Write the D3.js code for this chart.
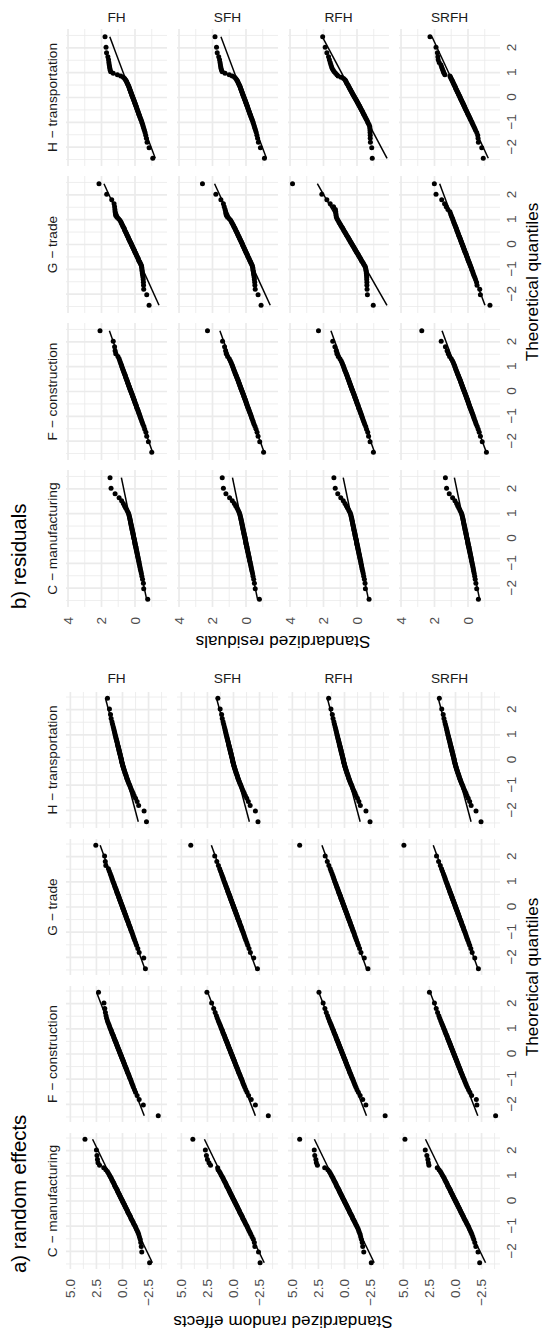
<!DOCTYPE html>
<html>
<head>
<meta charset="utf-8">
<script src="https://cdn.jsdelivr.net/npm/d3@7"></script>
<style>
  body { margin: 0; background: #fff; }
  text { font-family: "Liberation Sans", Arial, Helvetica, sans-serif; }
</style>
</head>
<body>
<svg id="chart" width="543" height="1331"></svg>
<script>
// facet labels
const sectors = ['C − manufacturing', 'F − construction', 'G − trade', 'H − transportation']
const models = ['FH', 'SFH', 'RFH', 'SRFH']

// ticks
const qTicks = [-2, -1, 0, 1, 2]
const qMinor = [-2.5, -1.5, -0.5, 0.5, 1.5, 2.5]
const reTicks = [-2.5, 0, 2.5, 5]
const reMinor = [-3.75, -1.25, 1.25, 3.75]
const resTicks = [0, 2, 4]
const resMinor = [-1, 1, 3]

// a) standardized random effects, sorted sample per facet
const reC_FH = [-2.6, -1.85, -1.8, -1.75, -1.7, -1.62, -1.55, -1.48, -1.4, -1.32, -1.25, -1.18, -1.1, -1.04, -0.98, -0.92, -0.86, -0.8, -0.76, -0.71, -0.66, -0.6, -0.55, -0.5, -0.47, -0.42, -0.37, -0.32, -0.29, -0.24, -0.19, -0.16, -0.11, -0.06, -0.02, 0.02, 0.06, 0.11, 0.16, 0.19, 0.24, 0.29, 0.32, 0.37, 0.42, 0.47, 0.5, 0.55, 0.6, 0.66, 0.71, 0.76, 0.8, 0.86, 0.92, 0.98, 1.04, 1.1, 1.18, 1.25, 1.35, 1.45, 1.6, 1.8, 2.2, 2.35, 2.4, 2.45, 2.5, 3.6]
const reC_SFH = [-2.55, -2.4, -2.05, -2.0, -1.9, -1.78, -1.66, -1.57, -1.48, -1.4, -1.33, -1.26, -1.18, -1.12, -1.06, -1.0, -0.94, -0.88, -0.84, -0.79, -0.74, -0.68, -0.63, -0.58, -0.55, -0.5, -0.45, -0.4, -0.37, -0.32, -0.27, -0.24, -0.19, -0.14, -0.1, -0.06, -0.02, 0.03, 0.08, 0.11, 0.16, 0.21, 0.24, 0.29, 0.34, 0.39, 0.42, 0.47, 0.52, 0.58, 0.63, 0.68, 0.72, 0.78, 0.84, 0.9, 0.96, 1.02, 1.1, 1.18, 1.26, 1.36, 1.48, 1.52, 2.2, 2.35, 2.5, 2.6, 2.7, 3.9]
const reC_RFH = [-2.57, -1.85, -1.75, -1.7, -1.62, -1.55, -1.5, -1.42, -1.36, -1.3, -1.22, -1.15, -1.08, -1.02, -0.96, -0.9, -0.84, -0.78, -0.74, -0.69, -0.64, -0.58, -0.53, -0.48, -0.45, -0.4, -0.35, -0.3, -0.27, -0.22, -0.17, -0.14, -0.09, -0.04, 0.0, 0.04, 0.08, 0.13, 0.18, 0.21, 0.26, 0.31, 0.34, 0.39, 0.44, 0.49, 0.52, 0.57, 0.62, 0.68, 0.73, 0.78, 0.82, 0.88, 0.94, 1.0, 1.06, 1.12, 1.2, 1.27, 1.36, 1.46, 1.6, 1.9, 2.6, 2.7, 2.75, 2.85, 2.9, 4.3]
const reC_SRFH = [-2.32, -2.16, -1.95, -1.85, -1.75, -1.66, -1.57, -1.49, -1.41, -1.33, -1.26, -1.19, -1.12, -1.05, -0.99, -0.93, -0.87, -0.81, -0.76, -0.71, -0.66, -0.61, -0.56, -0.51, -0.47, -0.42, -0.38, -0.33, -0.29, -0.24, -0.2, -0.16, -0.11, -0.07, -0.02, 0.02, 0.06, 0.11, 0.16, 0.19, 0.24, 0.29, 0.32, 0.37, 0.42, 0.47, 0.5, 0.55, 0.6, 0.66, 0.71, 0.76, 0.8, 0.86, 0.92, 0.98, 1.04, 1.1, 1.18, 1.26, 1.35, 1.45, 1.58, 1.75, 2.55, 2.6, 2.65, 2.75, 2.9, 4.85]

const reF_FH = [-3.43, -2.0, -1.6, -1.4, -1.25, -1.15, -1.05, -0.98, -0.91, -0.85, -0.79, -0.73, -0.67, -0.63, -0.58, -0.53, -0.48, -0.44, -0.4, -0.36, -0.32, -0.28, -0.24, -0.2, -0.17, -0.13, -0.09, -0.06, -0.03, 0.01, 0.05, 0.08, 0.11, 0.15, 0.18, 0.22, 0.25, 0.29, 0.32, 0.35, 0.39, 0.43, 0.46, 0.49, 0.53, 0.57, 0.6, 0.64, 0.68, 0.72, 0.76, 0.8, 0.84, 0.88, 0.93, 0.98, 1.03, 1.07, 1.13, 1.19, 1.25, 1.31, 1.38, 1.45, 1.52, 1.58, 1.64, 1.7, 1.78, 2.3]
const reF_SFH = [-3.34, -2.1, -1.7, -1.45, -1.3, -1.18, -1.08, -1.0, -0.93, -0.87, -0.81, -0.75, -0.69, -0.64, -0.59, -0.54, -0.49, -0.45, -0.41, -0.37, -0.33, -0.29, -0.25, -0.21, -0.18, -0.14, -0.1, -0.07, -0.04, 0.0, 0.04, 0.07, 0.1, 0.14, 0.17, 0.21, 0.24, 0.28, 0.31, 0.34, 0.38, 0.42, 0.45, 0.48, 0.52, 0.56, 0.59, 0.63, 0.67, 0.71, 0.75, 0.79, 0.83, 0.87, 0.92, 0.97, 1.02, 1.06, 1.12, 1.18, 1.24, 1.31, 1.38, 1.46, 1.55, 1.64, 1.76, 1.9, 2.1, 2.55]
const reF_RFH = [-3.9, -2.05, -1.75, -1.5, -1.33, -1.2, -1.1, -1.02, -0.95, -0.88, -0.82, -0.76, -0.7, -0.65, -0.6, -0.55, -0.5, -0.46, -0.42, -0.38, -0.34, -0.3, -0.26, -0.22, -0.19, -0.15, -0.11, -0.08, -0.05, -0.01, 0.03, 0.06, 0.09, 0.13, 0.16, 0.2, 0.23, 0.27, 0.3, 0.33, 0.37, 0.41, 0.44, 0.47, 0.51, 0.55, 0.58, 0.62, 0.66, 0.7, 0.74, 0.78, 0.82, 0.86, 0.91, 0.96, 1.01, 1.05, 1.11, 1.17, 1.23, 1.3, 1.37, 1.45, 1.54, 1.63, 1.75, 1.88, 2.05, 2.45]
const reF_SRFH = [-3.85, -2.05, -2.0, -1.55, -1.38, -1.25, -1.14, -1.05, -0.98, -0.91, -0.85, -0.79, -0.73, -0.68, -0.63, -0.58, -0.53, -0.49, -0.45, -0.41, -0.37, -0.33, -0.29, -0.25, -0.22, -0.18, -0.14, -0.11, -0.08, -0.04, 0.0, 0.03, 0.06, 0.1, 0.13, 0.17, 0.2, 0.24, 0.27, 0.3, 0.34, 0.38, 0.41, 0.44, 0.48, 0.52, 0.55, 0.59, 0.63, 0.67, 0.71, 0.75, 0.79, 0.83, 0.88, 0.93, 0.98, 1.02, 1.08, 1.14, 1.2, 1.27, 1.34, 1.42, 1.51, 1.6, 1.72, 1.85, 2.02, 2.5]

const reG_FH = [-2.2, -2.04, -1.6, -1.47, -1.35, -1.26, -1.17, -1.1, -1.04, -0.98, -0.93, -0.87, -0.82, -0.77, -0.73, -0.69, -0.64, -0.6, -0.56, -0.53, -0.49, -0.45, -0.41, -0.37, -0.35, -0.31, -0.28, -0.24, -0.21, -0.18, -0.14, -0.12, -0.08, -0.04, -0.02, 0.02, 0.04, 0.08, 0.12, 0.14, 0.18, 0.21, 0.24, 0.28, 0.31, 0.35, 0.37, 0.41, 0.45, 0.49, 0.53, 0.56, 0.6, 0.64, 0.69, 0.73, 0.77, 0.82, 0.87, 0.93, 0.98, 1.04, 1.1, 1.17, 1.26, 1.35, 1.6, 1.65, 1.72, 2.56]
const reG_SFH = [-2.3, -1.95, -1.62, -1.49, -1.37, -1.28, -1.19, -1.12, -1.06, -1.0, -0.95, -0.89, -0.84, -0.79, -0.75, -0.71, -0.66, -0.62, -0.58, -0.55, -0.51, -0.47, -0.43, -0.39, -0.37, -0.33, -0.3, -0.26, -0.23, -0.2, -0.16, -0.14, -0.1, -0.06, -0.04, 0.0, 0.02, 0.06, 0.1, 0.12, 0.16, 0.19, 0.22, 0.26, 0.29, 0.33, 0.35, 0.39, 0.43, 0.47, 0.51, 0.54, 0.58, 0.62, 0.67, 0.71, 0.75, 0.8, 0.85, 0.91, 0.96, 1.02, 1.08, 1.15, 1.24, 1.33, 1.45, 1.6, 1.8, 4.1]
const reG_RFH = [-2.25, -1.9, -1.58, -1.45, -1.33, -1.24, -1.15, -1.08, -1.02, -0.96, -0.91, -0.85, -0.8, -0.75, -0.71, -0.67, -0.62, -0.58, -0.54, -0.51, -0.47, -0.43, -0.39, -0.35, -0.33, -0.29, -0.26, -0.22, -0.19, -0.16, -0.12, -0.1, -0.06, -0.02, 0.0, 0.04, 0.06, 0.1, 0.14, 0.16, 0.2, 0.23, 0.26, 0.3, 0.33, 0.37, 0.39, 0.43, 0.47, 0.51, 0.55, 0.58, 0.62, 0.66, 0.71, 0.75, 0.79, 0.84, 0.89, 0.95, 1.0, 1.06, 1.12, 1.19, 1.28, 1.37, 1.5, 1.65, 1.85, 4.3]
const reG_SRFH = [-2.2, -1.85, -1.6, -1.47, -1.36, -1.27, -1.18, -1.11, -1.05, -0.99, -0.94, -0.88, -0.83, -0.78, -0.74, -0.7, -0.65, -0.61, -0.57, -0.54, -0.5, -0.46, -0.42, -0.38, -0.36, -0.32, -0.29, -0.25, -0.22, -0.19, -0.15, -0.13, -0.09, -0.05, -0.03, 0.01, 0.03, 0.07, 0.11, 0.13, 0.17, 0.2, 0.23, 0.27, 0.3, 0.34, 0.36, 0.4, 0.44, 0.48, 0.52, 0.55, 0.59, 0.63, 0.68, 0.72, 0.76, 0.81, 0.86, 0.92, 0.97, 1.03, 1.09, 1.16, 1.25, 1.34, 1.46, 1.62, 1.82, 4.95]

const reH_FH = [-2.3, -2.07, -1.55, -1.4, -1.25, -1.12, -1.02, -0.93, -0.85, -0.78, -0.72, -0.66, -0.6, -0.55, -0.5, -0.46, -0.42, -0.38, -0.35, -0.31, -0.28, -0.24, -0.21, -0.18, -0.15, -0.12, -0.09, -0.06, -0.04, -0.01, 0.01, 0.03, 0.06, 0.08, 0.1, 0.11, 0.13, 0.15, 0.18, 0.2, 0.22, 0.24, 0.26, 0.29, 0.31, 0.33, 0.35, 0.38, 0.4, 0.43, 0.45, 0.48, 0.5, 0.53, 0.56, 0.59, 0.62, 0.65, 0.69, 0.72, 0.76, 0.8, 0.84, 0.89, 0.95, 1.01, 1.09, 1.15, 1.25, 1.44]
const reH_SFH = [-2.35, -2.1, -1.6, -1.42, -1.27, -1.14, -1.03, -0.94, -0.86, -0.79, -0.73, -0.67, -0.61, -0.56, -0.51, -0.47, -0.43, -0.39, -0.36, -0.32, -0.29, -0.25, -0.22, -0.19, -0.16, -0.13, -0.1, -0.07, -0.05, -0.02, 0.0, 0.02, 0.05, 0.07, 0.09, 0.1, 0.12, 0.14, 0.17, 0.19, 0.21, 0.23, 0.25, 0.28, 0.3, 0.32, 0.34, 0.37, 0.39, 0.42, 0.44, 0.47, 0.49, 0.52, 0.55, 0.58, 0.61, 0.64, 0.68, 0.71, 0.75, 0.79, 0.83, 0.88, 0.94, 1.0, 1.08, 1.14, 1.28, 1.5]
const reH_RFH = [-2.45, -2.06, -1.52, -1.38, -1.24, -1.11, -1.01, -0.92, -0.84, -0.77, -0.71, -0.65, -0.59, -0.54, -0.49, -0.45, -0.41, -0.37, -0.34, -0.3, -0.27, -0.23, -0.2, -0.17, -0.14, -0.11, -0.08, -0.05, -0.03, 0.0, 0.02, 0.04, 0.07, 0.09, 0.11, 0.12, 0.14, 0.16, 0.19, 0.21, 0.23, 0.25, 0.27, 0.3, 0.32, 0.34, 0.36, 0.39, 0.41, 0.44, 0.46, 0.49, 0.51, 0.54, 0.57, 0.6, 0.63, 0.66, 0.7, 0.73, 0.77, 0.81, 0.85, 0.9, 0.96, 1.02, 1.1, 1.17, 1.3, 1.52]
const reH_SRFH = [-2.45, -1.97, -1.5, -1.36, -1.22, -1.1, -1.0, -0.91, -0.83, -0.76, -0.7, -0.64, -0.58, -0.53, -0.48, -0.44, -0.4, -0.36, -0.33, -0.29, -0.26, -0.22, -0.19, -0.16, -0.13, -0.1, -0.07, -0.04, -0.02, 0.01, 0.03, 0.05, 0.08, 0.1, 0.12, 0.13, 0.15, 0.17, 0.2, 0.22, 0.24, 0.26, 0.28, 0.31, 0.33, 0.35, 0.37, 0.4, 0.42, 0.45, 0.47, 0.5, 0.52, 0.55, 0.58, 0.61, 0.64, 0.67, 0.71, 0.74, 0.78, 0.82, 0.86, 0.91, 0.97, 1.03, 1.11, 1.18, 1.32, 1.55]

// b) standardized residuals, sorted sample per facet
const resC_FH = [-0.76, -0.52, -0.5, -0.45, -0.41, -0.38, -0.35, -0.32, -0.3, -0.28, -0.26, -0.24, -0.23, -0.21, -0.19, -0.18, -0.16, -0.15, -0.14, -0.12, -0.11, -0.1, -0.08, -0.07, -0.06, -0.05, -0.04, -0.02, -0.01, 0.0, 0.01, 0.02, 0.03, 0.04, 0.05, 0.07, 0.08, 0.09, 0.1, 0.11, 0.12, 0.13, 0.14, 0.16, 0.17, 0.18, 0.19, 0.2, 0.22, 0.23, 0.24, 0.26, 0.27, 0.28, 0.3, 0.31, 0.33, 0.35, 0.37, 0.4, 0.45, 0.5, 0.57, 0.63, 0.7, 0.8, 0.95, 1.19, 1.43, 1.49]
const resC_SFH = [-0.8, -0.55, -0.5, -0.46, -0.42, -0.39, -0.36, -0.33, -0.31, -0.29, -0.27, -0.25, -0.23, -0.21, -0.2, -0.18, -0.17, -0.15, -0.14, -0.13, -0.11, -0.1, -0.09, -0.07, -0.06, -0.05, -0.04, -0.03, -0.01, 0.0, 0.01, 0.02, 0.03, 0.04, 0.05, 0.06, 0.07, 0.08, 0.1, 0.11, 0.12, 0.13, 0.14, 0.15, 0.17, 0.18, 0.19, 0.2, 0.21, 0.23, 0.24, 0.25, 0.27, 0.28, 0.3, 0.31, 0.33, 0.35, 0.37, 0.4, 0.44, 0.49, 0.55, 0.62, 0.7, 0.82, 0.98, 1.2, 1.35, 1.42]
const resC_RFH = [-0.72, -0.5, -0.48, -0.44, -0.4, -0.37, -0.34, -0.31, -0.29, -0.27, -0.25, -0.23, -0.22, -0.2, -0.18, -0.17, -0.15, -0.14, -0.13, -0.11, -0.1, -0.09, -0.07, -0.06, -0.05, -0.04, -0.03, -0.01, 0.0, 0.01, 0.02, 0.03, 0.04, 0.05, 0.06, 0.08, 0.09, 0.1, 0.11, 0.12, 0.13, 0.14, 0.15, 0.17, 0.18, 0.19, 0.2, 0.21, 0.23, 0.24, 0.25, 0.27, 0.28, 0.29, 0.31, 0.32, 0.34, 0.36, 0.38, 0.41, 0.46, 0.51, 0.58, 0.64, 0.72, 0.82, 0.97, 1.15, 1.3, 1.38]
const resC_SRFH = [-0.62, -0.52, -0.47, -0.43, -0.4, -0.37, -0.34, -0.32, -0.3, -0.28, -0.26, -0.24, -0.22, -0.21, -0.19, -0.18, -0.16, -0.15, -0.14, -0.12, -0.11, -0.1, -0.08, -0.07, -0.06, -0.05, -0.04, -0.02, -0.01, 0.0, 0.01, 0.02, 0.03, 0.04, 0.05, 0.07, 0.08, 0.09, 0.1, 0.11, 0.12, 0.13, 0.14, 0.16, 0.17, 0.18, 0.19, 0.2, 0.22, 0.23, 0.24, 0.26, 0.27, 0.28, 0.3, 0.31, 0.33, 0.35, 0.37, 0.4, 0.45, 0.5, 0.56, 0.62, 0.68, 0.78, 0.92, 1.12, 1.28, 1.35]

const resF_FH = [-1.0, -0.8, -0.7, -0.65, -0.58, -0.53, -0.47, -0.43, -0.39, -0.35, -0.32, -0.29, -0.26, -0.23, -0.2, -0.18, -0.15, -0.12, -0.1, -0.08, -0.06, -0.03, -0.01, 0.01, 0.03, 0.05, 0.07, 0.09, 0.11, 0.13, 0.15, 0.17, 0.19, 0.21, 0.23, 0.25, 0.27, 0.29, 0.31, 0.33, 0.35, 0.37, 0.39, 0.41, 0.43, 0.45, 0.47, 0.49, 0.51, 0.54, 0.56, 0.58, 0.6, 0.63, 0.66, 0.68, 0.71, 0.74, 0.77, 0.8, 0.83, 0.87, 0.91, 0.95, 1.02, 1.15, 1.19, 1.22, 1.3, 2.09]
const resF_SFH = [-1.05, -0.82, -0.72, -0.66, -0.6, -0.54, -0.48, -0.44, -0.4, -0.36, -0.33, -0.3, -0.27, -0.24, -0.21, -0.18, -0.16, -0.13, -0.11, -0.08, -0.06, -0.04, -0.02, 0.0, 0.02, 0.04, 0.06, 0.08, 0.1, 0.12, 0.14, 0.16, 0.18, 0.2, 0.22, 0.24, 0.26, 0.28, 0.3, 0.32, 0.34, 0.36, 0.38, 0.4, 0.42, 0.44, 0.46, 0.48, 0.51, 0.53, 0.56, 0.58, 0.61, 0.64, 0.66, 0.69, 0.72, 0.75, 0.78, 0.81, 0.85, 0.89, 0.94, 1.0, 1.1, 1.18, 1.22, 1.28, 1.4, 2.3]
const resF_RFH = [-0.98, -0.78, -0.69, -0.64, -0.57, -0.52, -0.46, -0.42, -0.38, -0.34, -0.31, -0.28, -0.25, -0.22, -0.19, -0.17, -0.14, -0.11, -0.09, -0.07, -0.05, -0.02, 0.0, 0.02, 0.04, 0.06, 0.08, 0.1, 0.12, 0.14, 0.16, 0.18, 0.2, 0.22, 0.24, 0.26, 0.28, 0.3, 0.32, 0.34, 0.36, 0.38, 0.4, 0.42, 0.44, 0.46, 0.48, 0.5, 0.52, 0.55, 0.57, 0.59, 0.62, 0.64, 0.67, 0.7, 0.73, 0.76, 0.79, 0.82, 0.86, 0.9, 0.95, 1.02, 1.12, 1.2, 1.24, 1.32, 1.45, 2.3]
const resF_SRFH = [-1.1, -0.85, -0.74, -0.67, -0.61, -0.55, -0.49, -0.45, -0.41, -0.37, -0.34, -0.31, -0.28, -0.25, -0.22, -0.19, -0.17, -0.14, -0.12, -0.09, -0.07, -0.05, -0.03, -0.01, 0.01, 0.03, 0.05, 0.07, 0.09, 0.11, 0.13, 0.15, 0.17, 0.19, 0.21, 0.23, 0.25, 0.27, 0.29, 0.31, 0.33, 0.35, 0.37, 0.39, 0.41, 0.43, 0.45, 0.47, 0.5, 0.52, 0.55, 0.57, 0.6, 0.63, 0.65, 0.68, 0.71, 0.74, 0.77, 0.8, 0.84, 0.88, 0.93, 1.0, 1.1, 1.18, 1.25, 1.35, 1.6, 2.76]

const resG_FH = [-0.84, -0.7, -0.52, -0.51, -0.5, -0.49, -0.48, -0.46, -0.44, -0.43, -0.42, -0.41, -0.4, -0.39, -0.36, -0.32, -0.29, -0.25, -0.22, -0.2, -0.17, -0.14, -0.11, -0.08, -0.06, -0.03, 0.0, 0.02, 0.04, 0.07, 0.1, 0.12, 0.15, 0.17, 0.2, 0.22, 0.24, 0.27, 0.3, 0.32, 0.35, 0.38, 0.4, 0.42, 0.45, 0.48, 0.5, 0.53, 0.56, 0.59, 0.62, 0.64, 0.67, 0.71, 0.74, 0.78, 0.81, 0.85, 0.9, 0.98, 1.08, 1.15, 1.17, 1.19, 1.2, 1.22, 1.25, 1.39, 1.69, 2.15]
const resG_SFH = [-0.9, -0.72, -0.55, -0.53, -0.52, -0.5, -0.49, -0.47, -0.45, -0.44, -0.42, -0.41, -0.4, -0.38, -0.35, -0.31, -0.28, -0.25, -0.22, -0.19, -0.16, -0.13, -0.1, -0.08, -0.05, -0.02, 0.0, 0.03, 0.05, 0.08, 0.1, 0.13, 0.15, 0.18, 0.2, 0.22, 0.24, 0.27, 0.29, 0.32, 0.35, 0.37, 0.4, 0.42, 0.45, 0.48, 0.5, 0.53, 0.56, 0.59, 0.62, 0.65, 0.68, 0.72, 0.75, 0.79, 0.83, 0.87, 0.92, 1.0, 1.1, 1.17, 1.2, 1.22, 1.25, 1.3, 1.35, 1.5, 1.8, 2.6]
const resG_RFH = [-0.97, -0.62, -0.6, -0.59, -0.59, -0.58, -0.58, -0.57, -0.56, -0.55, -0.54, -0.52, -0.5, -0.47, -0.42, -0.38, -0.34, -0.29, -0.26, -0.22, -0.19, -0.15, -0.11, -0.08, -0.05, -0.01, 0.02, 0.06, 0.08, 0.12, 0.15, 0.18, 0.21, 0.25, 0.27, 0.31, 0.33, 0.37, 0.4, 0.43, 0.46, 0.5, 0.52, 0.56, 0.59, 0.63, 0.66, 0.69, 0.73, 0.77, 0.8, 0.84, 0.87, 0.92, 0.96, 1.0, 1.05, 1.09, 1.14, 1.19, 1.23, 1.25, 1.26, 1.27, 1.29, 1.4, 1.6, 1.8, 2.1, 3.85]
const resG_SRFH = [-1.31, -0.74, -0.7, -0.54, -0.51, -0.45, -0.4, -0.35, -0.31, -0.28, -0.24, -0.21, -0.18, -0.15, -0.12, -0.09, -0.06, -0.04, -0.01, 0.01, 0.03, 0.06, 0.08, 0.1, 0.12, 0.14, 0.17, 0.19, 0.21, 0.23, 0.25, 0.27, 0.29, 0.31, 0.33, 0.35, 0.37, 0.39, 0.41, 0.43, 0.45, 0.47, 0.49, 0.51, 0.54, 0.56, 0.58, 0.6, 0.62, 0.65, 0.67, 0.69, 0.72, 0.74, 0.77, 0.8, 0.83, 0.86, 0.89, 0.92, 0.96, 1.0, 1.04, 1.08, 1.2, 1.3, 1.4, 1.57, 1.91, 2.01]

const resH_FH = [-1.06, -0.84, -0.72, -0.68, -0.64, -0.6, -0.56, -0.52, -0.49, -0.46, -0.43, -0.4, -0.37, -0.34, -0.31, -0.28, -0.26, -0.23, -0.21, -0.19, -0.16, -0.14, -0.12, -0.1, -0.08, -0.06, -0.04, -0.02, 0.0, 0.02, 0.04, 0.06, 0.08, 0.1, 0.12, 0.14, 0.16, 0.18, 0.2, 0.22, 0.24, 0.26, 0.28, 0.3, 0.32, 0.34, 0.36, 0.38, 0.41, 0.44, 0.47, 0.5, 0.53, 0.57, 0.62, 0.7, 0.85, 1.05, 1.3, 1.45, 1.48, 1.5, 1.52, 1.54, 1.56, 1.58, 1.62, 1.7, 1.73, 1.79]
const resH_SFH = [-1.1, -0.86, -0.74, -0.69, -0.65, -0.61, -0.57, -0.53, -0.5, -0.47, -0.44, -0.41, -0.38, -0.35, -0.32, -0.29, -0.27, -0.24, -0.22, -0.2, -0.17, -0.15, -0.13, -0.11, -0.09, -0.07, -0.05, -0.03, -0.01, 0.01, 0.03, 0.05, 0.07, 0.09, 0.11, 0.13, 0.15, 0.17, 0.19, 0.21, 0.23, 0.25, 0.27, 0.29, 0.31, 0.33, 0.35, 0.37, 0.4, 0.43, 0.46, 0.49, 0.52, 0.56, 0.61, 0.68, 0.82, 1.0, 1.25, 1.42, 1.46, 1.49, 1.51, 1.53, 1.55, 1.58, 1.63, 1.72, 1.76, 1.85]
const resH_RFH = [-0.91, -0.88, -0.8, -0.79, -0.79, -0.78, -0.78, -0.77, -0.76, -0.72, -0.67, -0.63, -0.59, -0.55, -0.51, -0.47, -0.44, -0.4, -0.37, -0.34, -0.31, -0.27, -0.24, -0.21, -0.18, -0.15, -0.12, -0.09, -0.06, -0.03, 0.0, 0.03, 0.06, 0.09, 0.12, 0.15, 0.18, 0.21, 0.24, 0.27, 0.3, 0.33, 0.36, 0.39, 0.42, 0.45, 0.48, 0.51, 0.54, 0.58, 0.62, 0.65, 0.68, 0.72, 0.8, 0.95, 1.13, 1.2, 1.28, 1.36, 1.42, 1.48, 1.52, 1.56, 1.6, 1.65, 1.7, 1.8, 1.9, 2.05]
const resH_SRFH = [-0.91, -0.82, -0.62, -0.6, -0.58, -0.52, -0.45, -0.4, -0.35, -0.3, -0.26, -0.22, -0.17, -0.14, -0.1, -0.07, -0.03, 0.0, 0.03, 0.06, 0.09, 0.12, 0.15, 0.18, 0.2, 0.23, 0.25, 0.28, 0.3, 0.33, 0.36, 0.38, 0.41, 0.44, 0.46, 0.48, 0.5, 0.53, 0.56, 0.58, 0.61, 0.64, 0.66, 0.69, 0.72, 0.74, 0.76, 0.79, 0.82, 0.85, 0.88, 0.91, 0.94, 0.97, 1.01, 1.04, 1.08, 1.38, 1.43, 1.47, 1.5, 1.54, 1.58, 1.62, 1.72, 1.78, 1.8, 1.83, 1.91, 2.27]

// inverse normal cdf (Acklam), used for the theoretical quantiles like stat_qq
function qnorm(p) {
  const a = [-3.969683028665376e+01, 2.209460984245205e+02, -2.759285104469687e+02, 1.383577518672690e+02, -3.066479806614716e+01, 2.506628277459239e+00]
  const b = [-5.447609879822406e+01, 1.615858368580409e+02, -1.556989798598866e+02, 6.680131188771972e+01, -1.328068155288572e+01]
  const c = [-7.784894002430293e-03, -3.223964580411365e-01, -2.400758277161838e+00, -2.549732539343734e+00, 4.374664141464968e+00, 2.938163982698783e+00]
  const d = [7.784695709041462e-03, 3.224671290700398e-01, 2.445134137142996e+00, 3.754408661907416e+00]
  const tail = q => (((((c[0] * q + c[1]) * q + c[2]) * q + c[3]) * q + c[4]) * q + c[5]) / ((((d[0] * q + d[1]) * q + d[2]) * q + d[3]) * q + 1)
  if (p < 0.02425) return tail(Math.sqrt(-2 * Math.log(p)))
  if (p > 1 - 0.02425) return -tail(Math.sqrt(-2 * Math.log(1 - p)))
  const q = p - 0.5, r = q * q
  return (((((a[0] * r + a[1]) * r + a[2]) * r + a[3]) * r + a[4]) * r + a[5]) * q / (((((b[0] * r + b[1]) * r + b[2]) * r + b[3]) * r + b[4]) * r + 1)
}

const panels = [
  {
    title: 'a) random effects', titleX: 58,
    yTitle: 'Standardized random effects', yTitleX: 15.5, xTitleX: 354,
    left: 62, colW: 136, stripX: 653,
    xDomain: [-2.7, 2.7], yDomain: [-4.27, 5.42],
    yTicks: reTicks, yMinor: reMinor, yFormat: d3.format('.1f'),
    // rows = models, columns = sectors
    series: [
      [reC_FH, reF_FH, reG_FH, reH_FH],
      [reC_SFH, reF_SFH, reG_SFH, reH_SFH],
      [reC_RFH, reF_RFH, reG_RFH, reH_RFH],
      [reC_SRFH, reF_SRFH, reG_SRFH, reH_SRFH]
    ]
  },
  {
    title: 'b) residuals', titleX: 722,
    yTitle: 'Standardized residuals', yTitleX: 695.5, xTitleX: 1049,
    left: 724, colW: 137, stripX: 1314,
    xDomain: [-2.76, 2.76], yDomain: [-1.91, 4.12],
    yTicks: resTicks, yMinor: resMinor, yFormat: d3.format('d'),
    series: [
      [resC_FH, resF_FH, resG_FH, resH_FH],
      [resC_SFH, resF_SFH, resG_SFH, resH_SFH],
      [resC_RFH, resF_RFH, resG_RFH, resH_RFH],
      [resC_SRFH, resF_SRFH, resG_SRFH, resH_SRFH]
    ]
  }
]

// layout of the landscape figure, rotated into the portrait page
const rowTop = 66, rowStep = 111, rowH = 101, colStep = 147
const gridCol = '#ebebeb'

const svg = d3.select('#chart')
const root = svg.append('g').attr('transform', 'translate(0,1331) rotate(-90)')

panels.forEach(p => {
  const pg = root.append('g')

  pg.append('text')
    .attr('x', p.titleX).attr('y', 25.5)
    .attr('font-size', 20.4)
    .attr('fill', '#000')
    .text(p.title)

  models.forEach((m, r) => {
    const y0 = rowTop + r * rowStep
    const y = d3.scaleLinear().domain(p.yDomain).range([y0 + rowH, y0])

    // row strip on the right
    pg.append('text')
      .attr('transform', 'translate(' + p.stripX + ',' + (y0 + rowH / 2) + ') rotate(90)')
      .attr('text-anchor', 'middle')
      .attr('dy', '0.35em')
      .attr('font-size', 13.7)
      .attr('fill', '#1a1a1a')
      .text(m)

    sectors.forEach((s, j) => {
      const x0 = p.left + j * colStep
      const x = d3.scaleLinear().domain(p.xDomain).range([x0, x0 + p.colW])
      const cell = pg.append('g')

      // grid
      cell.selectAll('.gxm').data(qMinor).enter().append('line')
        .attr('x1', d => x(d)).attr('x2', d => x(d))
        .attr('y1', y0).attr('y2', y0 + rowH)
        .attr('stroke', gridCol).attr('stroke-width', 0.85)
      cell.selectAll('.gym').data(p.yMinor).enter().append('line')
        .attr('x1', x0).attr('x2', x0 + p.colW)
        .attr('y1', d => y(d)).attr('y2', d => y(d))
        .attr('stroke', gridCol).attr('stroke-width', 0.85)
      cell.selectAll('.gx').data(qTicks).enter().append('line')
        .attr('x1', d => x(d)).attr('x2', d => x(d))
        .attr('y1', y0).attr('y2', y0 + rowH)
        .attr('stroke', gridCol).attr('stroke-width', 1.7)
      cell.selectAll('.gy').data(p.yTicks).enter().append('line')
        .attr('x1', x0).attr('x2', x0 + p.colW)
        .attr('y1', d => y(d)).attr('y2', d => y(d))
        .attr('stroke', gridCol).attr('stroke-width', 1.7)

      // sample against theoretical quantiles
      const sample = p.series[r][j].slice().sort(d3.ascending)
      const n = sample.length
      const pts = sample.map((v, i) => [qnorm((i + 0.5) / n), v])

      cell.selectAll('circle').data(pts).enter().append('circle')
        .attr('cx', d => x(d[0]))
        .attr('cy', d => y(d[1]))
        .attr('r', 2.5)
        .attr('fill', '#000')

      // qq line through the quartiles
      const q1 = d3.quantileSorted(sample, 0.25), q3 = d3.quantileSorted(sample, 0.75)
      const slope = (q3 - q1) / (qnorm(0.75) - qnorm(0.25))
      const icpt = q1 - slope * qnorm(0.25)
      const ends = [pts[0][0], pts[n - 1][0]]
      cell.append('line')
        .attr('x1', x(ends[0])).attr('y1', y(icpt + slope * ends[0]))
        .attr('x2', x(ends[1])).attr('y2', y(icpt + slope * ends[1]))
        .attr('stroke', '#000').attr('stroke-width', 1.5)

      // column strip on top
      if (r === 0) {
        pg.append('text')
          .attr('x', x0 + p.colW / 2).attr('y', 56.8)
          .attr('text-anchor', 'middle')
          .attr('font-size', 13.7)
          .attr('fill', '#1a1a1a')
          .text(s)
      }

      // axes
      if (j === 0) {
        pg.append('g')
          .attr('transform', 'translate(' + x0 + ',0)')
          .call(d3.axisLeft(y).tickValues(p.yTicks).tickFormat(p.yFormat).tickSize(0).tickPadding(10))
          .call(a => a.select('.domain').remove())
          .call(a => a.selectAll('text')
            .attr('font-size', 13.6).attr('fill', '#4d4d4d')
            .attr('font-family', '"Liberation Sans", Arial, sans-serif'))
      }
      if (r === models.length - 1) {
        pg.append('g')
          .attr('transform', 'translate(0,' + (y0 + rowH) + ')')
          .call(d3.axisBottom(x).tickValues(qTicks).tickFormat(d3.format('d')).tickSize(0).tickPadding(6))
          .call(a => a.select('.domain').remove())
          .call(a => a.selectAll('text')
            .attr('font-size', 13.6).attr('fill', '#4d4d4d')
            .attr('font-family', '"Liberation Sans", Arial, sans-serif'))
      }
    })
  })

  // axis titles
  pg.append('text')
    .attr('x', p.xTitleX).attr('y', 537.5)
    .attr('text-anchor', 'middle')
    .attr('font-size', 17.2)
    .attr('fill', '#000')
    .text('Theoretical quantiles')

  pg.append('text')
    .attr('transform', 'translate(' + p.yTitleX + ',' + (rowTop + (rowStep * 3 + rowH) / 2) + ') rotate(-90)')
    .attr('text-anchor', 'middle')
    .attr('font-size', 17.2)
    .attr('fill', '#000')
    .text(p.yTitle)
})
</script>
</body>
</html>
